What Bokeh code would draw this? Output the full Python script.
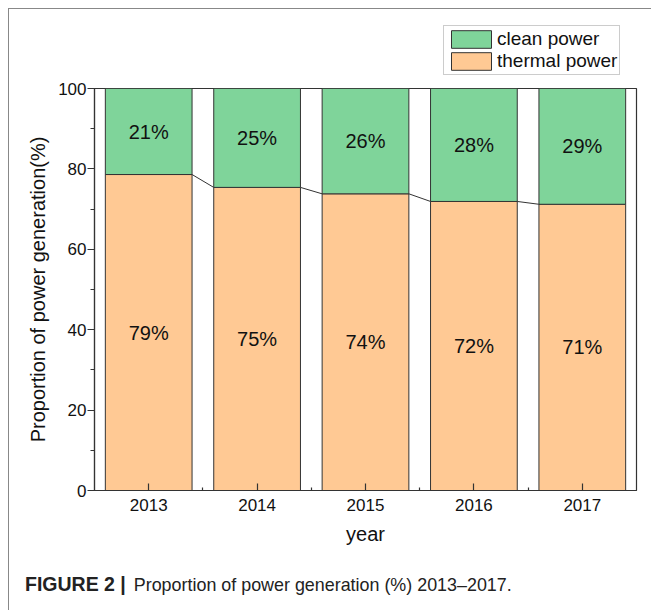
from bokeh.plotting import figure
from bokeh.layouts import column
from bokeh.models import (ColumnDataSource, LinearAxis, FixedTicker, SingleIntervalTicker,
                          Legend, LegendItem, Div)
from bokeh.embed import file_html
from bokeh.resources import INLINE
from bokeh.core.properties import value

years = ["2013", "2014", "2015", "2016", "2017"]
thermal = [78.6, 75.4, 73.8, 71.9, 71.2]
clean = [100 - t for t in thermal]
series_names = ["clean power", "thermal power"]
caption_bold = "FIGURE 2 |"
caption_text = "Proportion of power generation (%) 2013\u20132017."

GREEN = "#7fd49a"
ORANGE = "#ffc994"
EDGE = "#333333"
FONT = "Liberation Sans"

xs = list(range(len(years)))
src = ColumnDataSource(dict(
    x=xs,
    thermal=thermal,
    top=[100.0] * len(years),
    t_mid=[t / 2 for t in thermal],
    c_mid=[t + c / 2 for t, c in zip(thermal, clean)],
    t_lab=[f"{round(t)}%" for t in thermal],
    c_lab=[f"{round(c)}%" for c in clean],
))

# ---------- legend strip ----------
leg = figure(width=641, height=70, output_backend="svg", toolbar_location=None,
             min_border_left=84, min_border_right=15, min_border_top=0, min_border_bottom=0,
             x_axis_type=None, y_axis_type=None, x_range=(0, 1), y_range=(0, 1))
leg.grid.visible = False
leg.outline_line_color = None
leg.border_fill_color = "white"
# off-range proxies that only carry the legend styling
d_cl = leg.vbar(x=[-10], top=[-10], width=0.8, fill_color=GREEN, line_color=EDGE, line_width=1)
d_th = leg.vbar(x=[-10], top=[-10], width=0.8, fill_color=ORANGE, line_color=EDGE, line_width=1)
legend = Legend(items=[LegendItem(label=series_names[0], renderers=[d_cl]),
                       LegendItem(label=series_names[1], renderers=[d_th])],
                location=(349, 5))
legend.margin = 0
legend.padding = 2
legend.spacing = 0
legend.glyph_width = 50
legend.glyph_height = 22
legend.label_height = 22
legend.label_standoff = 1
legend.label_text_font = FONT
legend.label_text_font_size = "19px"
legend.label_text_color = "#111111"
legend.border_line_color = "#999999"
legend.border_line_width = 1
legend.background_fill_alpha = 1
leg.add_layout(legend, "center")

# ---------- main chart ----------
p = figure(width=641, height=480, x_range=(-0.5, 4.5), y_range=(0, 100),
           output_backend="svg", toolbar_location=None,
           min_border_left=84, min_border_right=15, min_border_top=8, min_border_bottom=70,
           x_axis_type=None, y_axis_type=None)
p.grid.visible = False
p.outline_line_color = EDGE
p.outline_line_width = 1.2
p.background_fill_color = "white"
p.border_fill_color = "white"

r_th = p.vbar(x="x", width=0.8, bottom=0, top="thermal", source=src,
              fill_color=ORANGE, line_color=EDGE, line_width=1)
r_cl = p.vbar(x="x", width=0.8, bottom="thermal", top="top", source=src,
              fill_color=GREEN, line_color=EDGE, line_width=1)

# connector lines between the thermal tops
p.segment(x0=[x + 0.4 for x in xs[:-1]], y0=thermal[:-1],
          x1=[x - 0.4 for x in xs[1:]], y1=thermal[1:],
          line_color=EDGE, line_width=1)

for ycol, tcol in (("t_mid", "t_lab"), ("c_mid", "c_lab")):
    p.text(x="x", y=ycol, text=tcol, source=src, text_align="center",
           text_baseline="middle", text_font=value(FONT), text_font_size="20px",
           text_color="#111111")

xaxis = LinearAxis(ticker=FixedTicker(ticks=xs, minor_ticks=[x + 0.5 for x in xs[:-1]]),
                   major_label_overrides={i: y for i, y in enumerate(years)},
                   axis_label="year")
xaxis.major_tick_in = 7
xaxis.major_tick_out = 0
xaxis.minor_tick_in = 3
xaxis.minor_tick_out = 0
xaxis.major_label_standoff = 8
xaxis.axis_label_standoff = 9
p.add_layout(xaxis, "below")

yaxis = LinearAxis(ticker=SingleIntervalTicker(interval=20, num_minor_ticks=2),
                   axis_label="Proportion of power generation(%)")
yaxis.major_tick_in = 0
yaxis.major_tick_out = 7
yaxis.minor_tick_in = 0
yaxis.minor_tick_out = 4
yaxis.major_label_standoff = 1
yaxis.axis_label_standoff = 6
p.add_layout(yaxis, "left")

for ax in (xaxis, yaxis):
    ax.axis_line_color = EDGE
    ax.axis_line_width = 1.2
    ax.major_tick_line_color = EDGE
    ax.major_tick_line_width = 1.2
    ax.minor_tick_line_color = EDGE
    ax.minor_tick_line_width = 1.2
    ax.major_label_text_font = FONT
    ax.major_label_text_font_size = "17px"
    ax.major_label_text_color = "#111111"
    ax.axis_label_text_font = FONT
    ax.axis_label_text_font_size = "20px"
    ax.axis_label_text_font_style = "normal"
    ax.axis_label_text_color = "#111111"

# ---------- caption ----------
cap = Div(text=(f"<span style='font-size:19.5px;font-weight:bold'>{caption_bold}</span>"
                f"<span style='font-size:17.9px;margin-left:3px'> {caption_text}</span>"),
          width=641, height=50,
          styles={"font-family": FONT, "color": "#222222",
                  "padding-left": "10px", "padding-top": "9px", "line-height": "20px",
                  "box-sizing": "border-box", "background": "white"})

layout = column(leg, p, cap, spacing=0, margin=(8, 0, 0, 8),
                styles={"border-left": "1px solid #888888", "border-top": "1px solid #888888",
                        "padding-left": "1px", "padding-top": "1px"})

open("out.html", "w").write(file_html(layout, INLINE))
